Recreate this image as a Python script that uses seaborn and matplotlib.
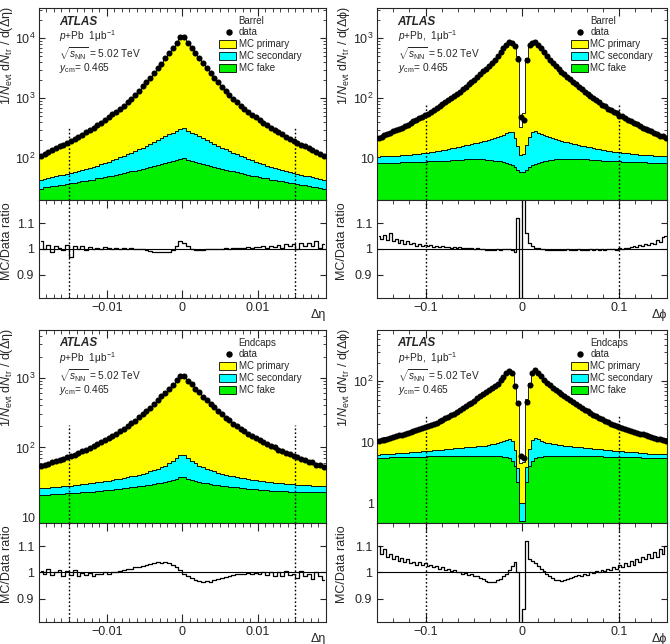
import numpy as np
import pandas as pd
import matplotlib
matplotlib.use("Agg")
import matplotlib.pyplot as plt
from matplotlib.ticker import FixedLocator, MultipleLocator, FuncFormatter, LogLocator, NullFormatter
from matplotlib.patches import Rectangle
import seaborn as sns

# ---- binning (x categories) ----
edges_eta = np.linspace(-0.019, 0.019, 77)
edges_phi = np.linspace(-0.15, 0.15, 101)

# ---- Barrel, delta eta ----
barrel_eta_data = [108, 117, 126, 136, 146, 157, 168, 180, 195, 211, 229, 248, 270, 295, 324, 355, 390, 437, 480,
                   537, 600, 670, 750, 860, 980, 1150, 1330, 1580, 1860, 2190, 2630, 3160, 3800, 4700, 5600, 6900,
                   8500, 10600,
                   10700, 8450, 6850, 5650, 4650, 3850, 3150, 2650, 2200, 1850, 1570, 1340, 1140, 990, 855, 755,
                   668, 598, 535, 482, 436, 392, 356, 322, 296, 269, 249, 228, 212, 194, 181, 167, 158, 145, 137,
                   126, 118, 109]
barrel_eta_fake = [31, 32.5, 32.5, 34, 34, 35.5, 36, 37, 38.5, 39, 40.5, 41, 42, 43.5, 44, 46, 47, 48.5, 50, 51, 53,
                   54.5, 56, 58, 60, 62, 64.5, 67, 69, 72, 75, 78, 81, 84, 87, 89, 92, 98,
                   99, 92, 89, 86, 84, 81, 78, 75, 72, 69, 67, 64, 62, 60, 58, 56, 54, 53, 51, 50, 48, 47, 46, 44,
                   43, 42, 41, 40, 39, 38, 37, 36, 35, 34, 33.5, 33, 32, 31]
barrel_eta_sec = [13, 13, 13.5, 14.5, 15.5, 16, 17, 18, 19, 20, 21, 22.5, 24, 26, 28, 29, 32, 34.5, 37, 41, 44, 49,
                  53, 58, 63, 69, 76, 83, 91, 100, 110, 122, 134, 150, 163, 176, 193, 212,
                  215, 195, 178, 164, 150, 135, 122, 111, 101, 91, 83, 76, 69, 63, 58, 53, 49, 44, 41, 37, 34.5,
                  32, 29, 28, 26, 24, 22.5, 21, 20, 19, 18, 17, 16, 15.5, 14.5, 13.5, 13, 12.5]
barrel_eta_ratio = [1.03, 1.0, 1.015, 0.99, 1.01, 1.005, 0.995, 1.015, 0.97, 1.01, 1.0, 1.012, 0.995, 1.008, 1.0,
                    1.005, 0.998, 1.006, 1.002, 1.0, 1.004, 1.001, 1.003, 1.0, 1.002, 0.999, 0.998, 1.0, 0.996,
                    0.993, 0.99, 0.989, 0.988, 0.989, 0.99, 0.995, 1.01, 1.03,
                    1.025, 1.01, 0.998, 0.995, 0.996, 0.997, 0.998, 0.999, 1.0, 1.001, 1.0, 1.002, 1.001, 1.003,
                    1.002, 1.004, 1.003, 1.006, 1.004, 1.008, 1.006, 1.01, 1.004, 1.012, 1.008, 1.015, 1.005,
                    1.018, 1.01, 1.02, 1.0, 1.022, 1.01, 1.025, 1.012, 1.03, 1.005, 1.02]

# ---- Barrel, delta phi ----
barrel_phi_data = [21.9, 22.9, 24.0, 25.1, 26.3, 27.9, 29.2, 30.9, 32.4, 34.3, 36.3, 38.5, 41, 43, 46, 49, 52, 55,
                   59, 63, 68, 73, 79, 86, 93, 101, 110, 119, 129, 141, 155, 170, 186, 204, 226, 251, 282, 309,
                   347, 390, 437, 500, 590, 690, 780, 865, 840, 760, 450, 48,
                   44, 440, 770, 845, 870, 790, 695, 585, 505, 432, 392, 344, 312, 279, 253, 224, 206, 184, 171,
                   153, 142, 128, 120, 109, 102, 92, 87, 78, 74, 67, 64, 58, 56, 51, 50, 46, 44, 41, 39, 36.5,
                   34.5, 32, 31, 29, 28, 26.5, 25.3, 23.8, 23, 21.8]
barrel_phi_fake = [8.3, 8.3, 8.3, 8.3, 8.4, 8.4, 8.4, 8.4, 8.5, 8.5, 8.5, 8.6, 8.6, 8.6, 8.7, 8.7, 8.7, 8.8, 8.8,
                   8.8, 8.9, 8.9, 9.0, 9.0, 9.1, 9.2, 9.2, 9.3, 9.4, 9.4, 9.5, 9.5, 9.6, 9.6, 9.6, 9.6, 9.5, 9.4,
                   9.3, 9.2, 9.0, 8.9, 8.8, 8.6, 8.3, 8.0, 7.6, 7.0, 6.3, 5.8,
                   5.8, 6.3, 7.0, 7.6, 8.0, 8.4, 8.7, 8.9, 9.1, 9.3, 9.4, 9.5, 9.6, 9.7, 9.7, 9.8, 9.8, 9.8, 9.7,
                   9.7, 9.6, 9.5, 9.5, 9.4, 9.3, 9.2, 9.2, 9.1, 9.0, 9.0, 8.9, 8.9, 8.8, 8.8, 8.7, 8.7, 8.7, 8.6,
                   8.6, 8.6, 8.5, 8.5, 8.5, 8.4, 8.4, 8.4, 8.3, 8.3, 8.3, 8.3]
barrel_phi_sec = [2.3, 2.4, 2.4, 2.5, 2.4, 2.5, 2.5, 2.6, 2.6, 2.7, 2.8, 2.8, 3.0, 3.1, 3.2, 3.3, 3.5, 3.6, 3.8, 4.0,
                  4.2, 4.4, 4.6, 4.9, 5.1, 5.3, 5.6, 5.9, 6.1, 6.5, 6.8, 7.2, 7.5, 8.0, 8.4, 8.9, 9.6, 10.3, 11.0,
                  11.8, 12.7, 13.6, 14.7, 15.9, 17.7, 19.5, 19.4, 15, 9.7, 5.7,
                  5.9, 10, 15.5, 19.8, 20, 18, 16.2, 15, 13.9, 12.9, 12, 11.2, 10.5, 9.8, 9.1, 8.6, 8.1, 7.7, 7.3,
                  6.9, 6.6, 6.3, 6.0, 5.7, 5.5, 5.2, 5.0, 4.8, 4.6, 4.4, 4.2, 4.0, 3.8, 3.7, 3.5, 3.4, 3.3, 3.2,
                  3.1, 3.0, 2.9, 2.8, 2.8, 2.7, 2.7, 2.6, 2.6, 2.5, 2.5, 2.4]
barrel_phi_ratio = [1.05, 1.04, 1.055, 1.035, 1.06, 1.03, 1.04, 1.025, 1.035, 1.02, 1.03, 1.02, 1.025, 1.01, 1.02,
                    1.012, 1.015, 1.01, 1.014, 1.008, 1.012, 1.006, 1.01, 1.007, 1.009, 1.005, 1.008, 1.004,
                    1.006, 1.003, 1.005, 1.002, 1.003, 1.0, 1.002, 0.998, 0.999, 0.996, 0.997, 0.995, 0.996,
                    0.998, 0.997, 1.0, 0.998, 1.001, 0.997, 0.99, 1.12, 0.7,
                    1.3, 1.06, 1.025, 1.012, 1.005, 1.003, 1.0, 0.998, 0.997, 0.996, 0.995, 0.996, 0.995, 0.997,
                    0.996, 0.998, 0.995, 0.997, 0.996, 0.998, 0.995, 0.997, 0.996, 0.999, 0.995, 0.998, 0.997,
                    1.0, 0.996, 0.999, 0.998, 1.001, 0.997, 1.003, 1.0, 1.005, 1.002, 1.008, 1.01, 1.006, 1.015,
                    1.012, 1.02, 1.015, 1.025, 1.02, 1.035, 1.028, 1.045, 1.05]

# ---- Endcaps, delta eta ----
endcap_eta_data = [54, 56, 58, 61, 63, 66, 69, 72, 76, 79, 83, 88, 93, 99, 105, 112, 119, 127, 136, 146, 158, 172,
                   186, 202, 221, 243, 269, 299, 331, 372, 417, 473, 537, 610, 690, 795, 910, 1050,
                   1060, 905, 800, 685, 615, 530, 478, 412, 375, 328, 302, 266, 245, 219, 204, 184, 173, 156, 147,
                   135, 128, 118, 113, 104, 100, 92, 89, 82, 80, 75, 73, 68, 66, 62, 61, 57, 56, 53]
endcap_eta_fake = [21, 21.1, 21.2, 21.3, 21.5, 21.6, 21.8, 22, 22.1, 22.3, 22.5, 22.7, 22.9, 23.1, 23.4, 23.7, 24,
                   24.3, 24.6, 25, 25.2, 25.5, 26, 26.5, 27, 27.5, 28, 28.5, 29, 29.5, 30, 31, 31.5, 32.5, 33, 34,
                   35, 38,
                   38, 35, 34, 33, 32.5, 31.5, 31, 30, 29.5, 29, 28.5, 28, 27.5, 27.2, 26.8, 26.4, 26, 25.7, 25.4,
                   25.1, 24.8, 24.6, 24.4, 24.2, 24, 23.8, 23.6, 23.5, 23.4, 23.3, 23.2, 23.1, 23, 23, 22.9, 22.9,
                   22.8, 22.8]
endcap_eta_sec = [5.0, 5.1, 5.3, 5.5, 5.6, 5.8, 5.9, 6.0, 6.3, 6.5, 6.7, 6.9, 7.1, 7.4, 7.6, 7.9, 8.2, 8.5, 8.8, 9.0,
                  9.6, 10, 10.5, 11, 11.5, 12, 12.5, 13.5, 14.5, 16, 17.5, 18.5, 20.5, 22.5, 26, 30, 35, 40,
                  40, 35, 30, 26, 22.5, 20.5, 18.5, 17.5, 16, 14.5, 13.5, 12.5, 12, 11.5, 11, 10.5, 10, 9.6, 9.0,
                  8.8, 8.5, 8.2, 7.9, 7.6, 7.4, 7.1, 6.9, 6.7, 6.5, 6.3, 6.0, 5.9, 5.8, 5.6, 5.5, 5.3, 5.1, 5.0]
endcap_eta_ratio = [1.005, 0.995, 1.012, 0.99, 1.0, 1.01, 0.985, 1.005, 0.99, 1.008, 0.985, 0.998, 0.99, 0.998,
                    0.988, 0.996, 0.993, 1.0, 0.995, 1.002, 1.0, 1.006, 1.008, 1.012, 1.015, 1.02, 1.022, 1.026,
                    1.03, 1.033, 1.037, 1.042, 1.038, 1.04, 1.035, 1.03, 1.02, 1.01,
                    0.995, 0.985, 0.978, 0.972, 0.968, 0.965, 0.967, 0.965, 0.97, 0.975, 0.98, 0.984, 0.988,
                    0.99, 0.993, 0.995, 0.993, 0.997, 0.995, 0.998, 0.993, 1.0, 0.99, 1.003, 0.988, 1.0, 0.985,
                    1.005, 0.99, 0.995, 0.98, 1.005, 0.985, 0.995, 0.975, 1.0, 0.985, 0.97]

# ---- Endcaps, delta phi ----
endcap_phi_data = [10.4, 10.7, 11.0, 11.4, 11.7, 12.2, 12.6, 12.9, 13.3, 13.8, 14.3, 14.8, 15.3, 15.8, 16.4, 17.2,
                   17.8, 18.4, 19.1, 20.0, 20.9, 22.1, 23.4, 24.8, 26.3, 27.9, 29.5, 31.6, 33.9, 36.3, 38.9, 41.7,
                   44.7, 48.4, 52.5, 56.9, 61.7, 66.8, 72.4, 78.5, 85, 92, 105, 120, 135, 150, 135, 85, 44, 6,
                   5.5, 46, 88, 138, 152, 137, 121, 106, 93, 86, 79, 73, 67.5, 62, 57.5, 53, 49, 45, 42, 39, 36.8,
                   34.2, 32, 29.8, 28.2, 26.5, 25, 23.7, 22.3, 21.1, 20.2, 19.3, 18.5, 17.9, 17.3, 16.6, 15.9,
                   15.4, 14.9, 14.4, 13.9, 13.4, 13.0, 12.6, 12.2, 11.8, 11.4, 11.1, 10.8, 10.5]
endcap_phi_fake = [5.6, 5.6, 5.6, 5.6, 5.7, 5.7, 5.7, 5.7, 5.7, 5.7, 5.7, 5.8, 5.8, 5.8, 5.8, 5.8, 5.8, 5.9, 5.9,
                   5.9, 5.9, 5.9, 5.9, 6.0, 6.0, 6.0, 6.0, 6.0, 6.0, 6.0, 6.0, 6.0, 6.0, 6.0, 6.0, 6.0, 5.9, 5.9,
                   5.9, 6.0, 6.0, 5.9, 5.9, 5.8, 5.7, 5.5, 5.0, 4.0, 2.2, 0.5,
                   0.5, 2.2, 4.0, 5.0, 5.5, 5.7, 5.8, 5.9, 5.9, 6.0, 6.0, 6.0, 6.0, 6.0, 6.0, 6.0, 6.0, 6.0, 6.0,
                   6.0, 6.0, 6.0, 5.9, 5.9, 5.9, 5.9, 5.9, 5.9, 5.8, 5.8, 5.8, 5.8, 5.8, 5.8, 5.7, 5.7, 5.7, 5.7,
                   5.7, 5.7, 5.7, 5.6, 5.6, 5.6, 5.6, 5.6, 5.6, 5.6, 5.6, 5.6]
endcap_phi_sec = [0.68, 0.7, 0.72, 0.75, 0.8, 0.82, 0.85, 0.88, 0.9, 0.95, 1.0, 1.05, 1.1, 1.15, 1.2, 1.25, 1.3,
                  1.35, 1.4, 1.45, 1.5, 1.55, 1.6, 1.7, 1.75, 1.8, 1.9, 1.95, 2.0, 2.1, 2.2, 2.3, 2.4, 2.5, 2.6,
                  2.7, 2.8, 2.9, 3.1, 3.3, 3.5, 3.8, 4.1, 4.6, 5.3, 6.0, 5.5, 3.5, 1.6, 0.5,
                  0.5, 1.7, 3.7, 5.8, 6.3, 5.6, 4.8, 4.3, 3.9, 3.6, 3.4, 3.2, 3.0, 2.9, 2.8, 2.7, 2.6, 2.5, 2.4,
                  2.3, 2.2, 2.1, 2.05, 2.0, 1.9, 1.85, 1.8, 1.75, 1.7, 1.6, 1.55, 1.5, 1.45, 1.4, 1.35, 1.3,
                  1.25, 1.2, 1.15, 1.1, 1.05, 1.0, 0.95, 0.9, 0.88, 0.85, 0.82, 0.8, 0.75, 0.72]
endcap_phi_ratio = [1.1, 1.07, 1.09, 1.06, 1.07, 1.05, 1.065, 1.045, 1.055, 1.04, 1.05, 1.035, 1.04, 1.03, 1.04,
                    1.028, 1.035, 1.025, 1.03, 1.02, 1.025, 1.015, 1.02, 1.01, 1.012, 1.005, 1.008, 1.0, 1.003,
                    0.995, 0.997, 0.99, 0.993, 0.985, 0.985, 0.978, 0.975, 0.968, 0.965, 0.962, 0.965, 0.97,
                    0.975, 0.985, 0.995, 1.01, 1.025, 1.04, 1.0, 0.75,
                    0.86, 1.12, 1.05, 1.045, 1.035, 1.025, 1.015, 1.005, 0.995, 0.985, 0.978, 0.972, 0.97,
                    0.968, 0.972, 0.975, 0.978, 0.982, 0.985, 0.99, 0.988, 0.995, 0.992, 1.0, 0.997, 1.005, 1.0,
                    1.01, 1.005, 1.015, 1.01, 1.02, 1.015, 1.03, 1.02, 1.035, 1.025, 1.045, 1.03, 1.05, 1.04,
                    1.06, 1.05, 1.07, 1.055, 1.08, 1.06, 1.09, 1.07, 1.1]

components = ["MC primary", "MC secondary", "MC fake"]
comp_colors = {"MC primary": "#ffff00", "MC secondary": "#00ffff", "MC fake": "#00f000"}

# ---- style ----
sns.set_style("ticks")
plt.rcParams["font.family"] = ["Liberation Sans", "DejaVu Sans"]
plt.rcParams.update({
    "mathtext.fontset": "custom",
    "mathtext.rm": "Liberation Sans",
    "mathtext.it": "Liberation Sans:italic",
    "mathtext.bf": "Liberation Sans:bold",
    "xtick.direction": "in", "ytick.direction": "in",
    "xtick.top": True, "ytick.right": True,
    "axes.linewidth": 0.8,
    "xtick.major.width": 0.8, "ytick.major.width": 0.8,
    "xtick.minor.width": 0.6, "ytick.minor.width": 0.6,
    "xtick.major.size": 5.5, "xtick.minor.size": 2.8,
    "ytick.major.size": 4.5, "ytick.minor.size": 2.3,
    "xtick.labelsize": 9, "ytick.labelsize": 9,
})


def log_fmt(v, pos):
    if np.isclose(v, 1):
        return "1"
    if np.isclose(v, 10):
        return "10"
    return r"$10^{%d}$" % round(np.log10(v))


def minus_fmt(v, pos):
    return ("%g" % v).replace("-", "\u2212")


panels = [
    dict(edges=edges_eta, data=barrel_eta_data, fake=barrel_eta_fake, sec=barrel_eta_sec, ratio=barrel_eta_ratio,
         region="Barrel", var="Δη", ylim=(20, 3.2e4), cut=0.015, cut_top=330, col=0, row=0,
         lumi=r"$p$+Pb  1μb$^{-1}$", major=[-0.01, 0, 0.01], minor=0.001),
    dict(edges=edges_phi, data=barrel_phi_data, fake=barrel_phi_fake, sec=barrel_phi_sec, ratio=barrel_phi_ratio,
         region="Barrel", var="Δϕ", ylim=(2, 3200), cut=0.1, cut_top=78, col=1, row=0,
         lumi=r"$p$+Pb,  1μb$^{-1}$", major=[-0.1, 0, 0.1], minor=0.1 / 6),
    dict(edges=edges_eta, data=endcap_eta_data, fake=endcap_eta_fake, sec=endcap_eta_sec, ratio=endcap_eta_ratio,
         region="Endcaps", var="Δη", ylim=(8.3, 4800), cut=0.015, cut_top=208, col=0, row=1,
         lumi=r"$p$+Pb  1μb$^{-1}$", major=[-0.01, 0, 0.01], minor=0.001),
    dict(edges=edges_phi, data=endcap_phi_data, fake=endcap_phi_fake, sec=endcap_phi_sec, ratio=endcap_phi_ratio,
         region="Endcaps", var="Δϕ", ylim=(0.47, 700), cut=0.1, cut_top=27, col=1, row=1,
         lumi=r"$p$+Pb,  1μb$^{-1}$", major=[-0.1, 0, 0.1], minor=0.1 / 6),
]

col_x = [(0.058, 0.428), (0.563, 0.433)]
row_y = [((0.6894, 0.298), (0.5373, 0.1522)), ((0.1879, 0.2997), (0.0342, 0.1537))]

fig = plt.figure(figsize=(6.7, 6.44), dpi=100)

for p in panels:
    x0, w = col_x[p["col"]]
    (mb, mh), (rb, rh) = row_y[p["row"]]
    ax = fig.add_axes([x0, mb, w, mh])
    rax = fig.add_axes([x0, rb, w, rh])

    edges = p["edges"]
    centers = 0.5 * (edges[:-1] + edges[1:])
    data = np.array(p["data"], dtype=float)
    ratio = np.array(p["ratio"], dtype=float)
    fake = np.array(p["fake"], dtype=float)
    sec = np.array(p["sec"], dtype=float)
    prim = data * ratio - fake - sec
    n = len(centers)

    df = pd.DataFrame({
        "x": np.tile(centers, 3),
        "w": np.concatenate([prim, sec, fake]),
        "comp": np.repeat(components, n),
    })
    sns.histplot(df, x="x", weights="w", hue="comp", hue_order=components, multiple="stack",
                 bins=[float(e) for e in edges], element="step", palette=comp_colors, alpha=1,
                 edgecolor="black", linewidth=0.6, legend=False, ax=ax)
    ax.set_yscale("log")
    sns.scatterplot(x=centers, y=data, color="black", s=19, linewidth=0, ax=ax, zorder=5, legend=False)

    lo, hi = p["ylim"]
    ax.set_ylim(lo, hi)
    ax.set_xlim(edges[0], edges[-1])
    ax.vlines([-p["cut"], p["cut"]], lo, p["cut_top"], colors="black", linestyles=(0, (1.2, 1.6)), lw=1.0,
              zorder=4)

    ax.xaxis.set_major_locator(FixedLocator(p["major"]))
    ax.xaxis.set_minor_locator(MultipleLocator(p["minor"]))
    ax.yaxis.set_major_locator(LogLocator(base=10, numticks=12))
    ax.yaxis.set_minor_locator(LogLocator(base=10, subs=np.arange(2, 10), numticks=12))
    ax.yaxis.set_major_formatter(FuncFormatter(log_fmt))
    ax.yaxis.set_minor_formatter(NullFormatter())
    ax.tick_params(axis="x", which="both", labelbottom=False)
    ax.tick_params(axis="y", pad=2.5)
    ax.set_xlabel("")
    ax.set_ylabel(r"1/$N_{\mathrm{evt}}$ d$N_{\mathrm{tr}}$ / d(%s)" % p["var"], fontsize=9, loc="top")
    ax.yaxis.set_label_coords(-0.083 if p["col"] == 0 else -0.088, 1.01)

    # annotations
    tx = 0.07
    ax.text(tx, 0.93, "ATLAS", transform=ax.transAxes, fontsize=8.5, fontweight="bold", fontstyle="italic",
            va="center")
    ax.text(tx, 0.852, p["lumi"], transform=ax.transAxes, fontsize=7.3, va="center")
    ax.text(tx, 0.762, r"$\sqrt{s_{\mathrm{NN}}}$ = 5.02 TeV", transform=ax.transAxes, fontsize=7.3, va="center")
    ax.text(tx, 0.688, r"$y_{\mathrm{cm}}$= 0.465", transform=ax.transAxes, fontsize=7.3, va="center")

    # legend
    if p["col"] == 0:
        lx, bx0, bw, dx = 0.697, 0.627, 0.059, 0.662
    else:
        lx, bx0, bw, dx = 0.734, 0.669, 0.059, 0.70
    ax.text(lx, 0.935, p["region"], transform=ax.transAxes, fontsize=7, va="center")
    ax.plot([dx], [0.874], "o", ms=3.6, color="black", transform=ax.transAxes, clip_on=False)
    ax.text(lx, 0.874, "data", transform=ax.transAxes, fontsize=7, va="center")
    for yc, comp in zip([0.812, 0.751, 0.690], components):
        ax.add_patch(Rectangle((bx0, yc - 0.021), bw, 0.042, transform=ax.transAxes,
                               facecolor=comp_colors[comp], edgecolor="black", lw=0.6, zorder=6))
        ax.text(lx, yc, comp, transform=ax.transAxes, fontsize=7, va="center")

    # ratio panel
    sns.lineplot(x=centers, y=ratio, color="black", lw=0.9, drawstyle="steps-mid", estimator=None,
                 ax=rax, legend=False)
    rax.axhline(1.0, color="black", lw=0.8)
    rax.axvline(-p["cut"], color="black", ls=(0, (1.2, 1.6)), lw=1.0)
    rax.axvline(p["cut"], color="black", ls=(0, (1.2, 1.6)), lw=1.0)
    rax.set_xlim(edges[0], edges[-1])
    rax.set_ylim(0.81, 1.19)
    rax.xaxis.set_major_locator(FixedLocator(p["major"]))
    rax.xaxis.set_minor_locator(MultipleLocator(p["minor"]))
    rax.xaxis.set_major_formatter(FuncFormatter(minus_fmt))
    rax.yaxis.set_major_locator(FixedLocator([0.9, 1.0, 1.1]))
    rax.yaxis.set_major_formatter(FuncFormatter(minus_fmt))
    rax.tick_params(axis="x", pad=3)
    rax.set_ylabel("MC/Data ratio", fontsize=9)
    rax.yaxis.set_label_coords(-0.09 if p["col"] == 0 else -0.1, 0.58)
    rax.set_xlabel(p["var"], fontsize=9, loc="right")
    rax.xaxis.set_label_coords(1.0, -0.11)

fig.savefig("out.png", dpi=100)
